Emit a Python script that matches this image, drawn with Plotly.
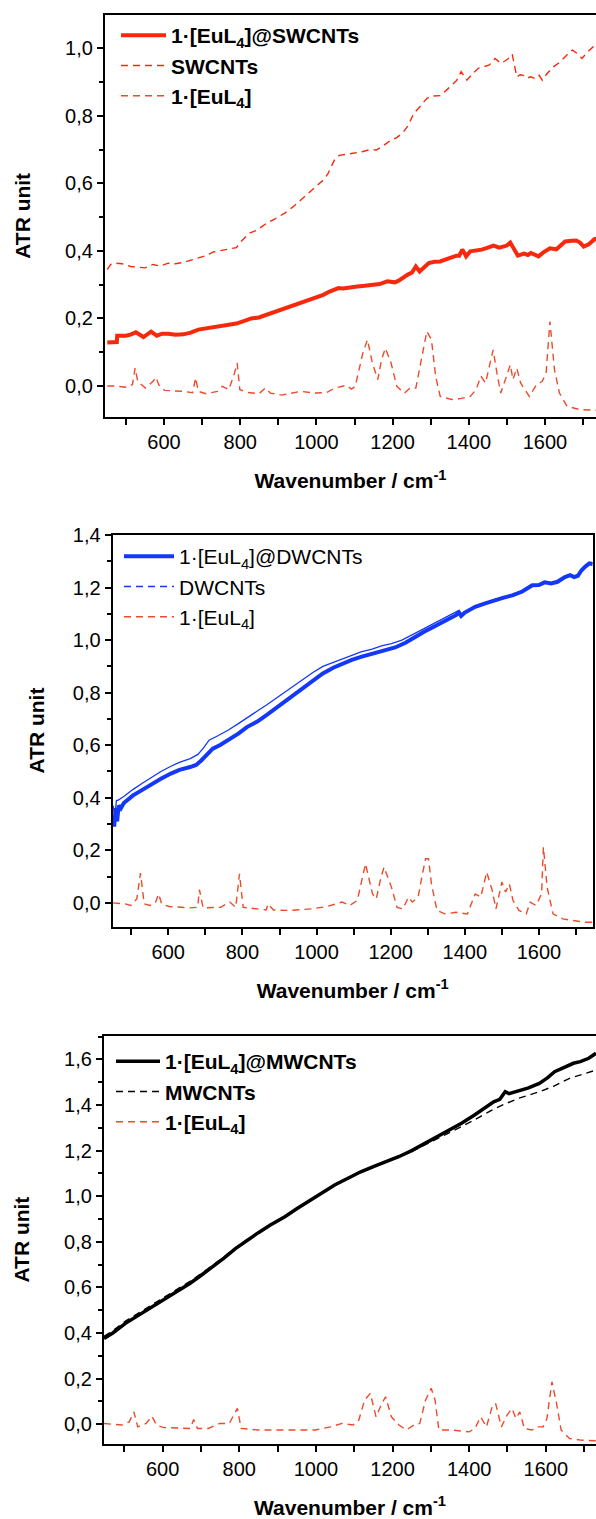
import plotly.graph_objects as go

# ---------------- Panel 1 : SWCNTs ----------------
p1_comp_x = [451, 470, 476, 477, 500, 512, 526, 546, 566, 581, 595, 611, 630, 651, 670, 690, 710, 730, 750, 770,
             790, 809, 829, 849, 869, 889, 909, 929, 948, 968, 988, 1008, 1018, 1033, 1048, 1058, 1070, 1087, 1107,
             1127, 1147, 1166, 1186, 1196, 1206, 1216, 1226, 1240, 1251, 1261, 1271, 1283, 1295, 1310, 1325, 1340,
             1355, 1368, 1375, 1383, 1388, 1393, 1404, 1420, 1434, 1450, 1465, 1480, 1492, 1500, 1509, 1516, 1529,
             1545, 1555, 1563, 1573, 1583, 1595, 1613, 1630, 1653, 1670, 1682, 1692, 1702, 1715, 1730, 1740]
p1_comp_y = [0.129, 0.129, 0.130, 0.149, 0.149, 0.152, 0.159, 0.145, 0.161, 0.149, 0.155, 0.155, 0.152, 0.153,
             0.158, 0.167, 0.171, 0.174, 0.177, 0.182, 0.185, 0.192, 0.200, 0.203, 0.211, 0.218, 0.226, 0.234,
             0.241, 0.248, 0.256, 0.265, 0.270, 0.279, 0.287, 0.290, 0.289, 0.293, 0.295, 0.297, 0.299, 0.302,
             0.310, 0.309, 0.307, 0.312, 0.320, 0.330, 0.336, 0.354, 0.339, 0.352, 0.364, 0.368, 0.369, 0.375,
             0.382, 0.386, 0.386, 0.404, 0.395, 0.384, 0.399, 0.402, 0.404, 0.410, 0.416, 0.410, 0.412, 0.416,
             0.425, 0.410, 0.386, 0.392, 0.388, 0.394, 0.390, 0.384, 0.395, 0.408, 0.405, 0.428, 0.430, 0.431,
             0.425, 0.413, 0.420, 0.435, 0.437]

p1_cnt_x = [451, 460, 472, 490, 512, 530, 551, 571, 590, 611, 630, 651, 670, 690, 710, 730, 750, 770, 790, 800,
            824, 845, 869, 890, 918, 940, 968, 990, 1018, 1030, 1047, 1060, 1075, 1097, 1120, 1140, 1157, 1175,
            1196, 1210, 1226, 1240, 1256, 1270, 1290, 1305, 1325, 1340, 1355, 1368, 1380, 1387, 1395, 1410, 1425,
            1440, 1454, 1469, 1484, 1494, 1504, 1514, 1520, 1526, 1535, 1544, 1553, 1563, 1575, 1585, 1593, 1605,
            1623, 1640, 1653, 1665, 1672, 1685, 1697, 1712, 1727, 1740]
p1_cnt_y = [0.345, 0.360, 0.364, 0.362, 0.354, 0.352, 0.350, 0.360, 0.355, 0.364, 0.362, 0.366, 0.372, 0.378,
            0.386, 0.397, 0.401, 0.404, 0.410, 0.425, 0.453, 0.462, 0.482, 0.494, 0.513, 0.532, 0.561, 0.583,
            0.610, 0.628, 0.669, 0.683, 0.686, 0.689, 0.694, 0.700, 0.699, 0.711, 0.729, 0.735, 0.749, 0.770,
            0.808, 0.825, 0.852, 0.859, 0.860, 0.875, 0.891, 0.905, 0.931, 0.920, 0.906, 0.925, 0.941, 0.946,
            0.951, 0.970, 0.956, 0.962, 0.970, 0.983, 0.950, 0.916, 0.922, 0.920, 0.912, 0.916, 0.910, 0.920,
            0.906, 0.925, 0.946, 0.960, 0.975, 0.990, 0.995, 0.985, 0.970, 0.990, 1.005, 1.010]

p1_eu_x = [451, 472, 502, 517, 524, 531, 551, 571, 579, 586, 601, 650, 675, 683, 690, 710, 740, 753, 770, 785,
           792, 799, 819, 849, 866, 879, 909, 958, 998, 1028, 1048, 1078, 1092, 1102, 1122, 1134, 1147, 1161, 1171,
           1181, 1196, 1211, 1231, 1246, 1261, 1276, 1290, 1302, 1313, 1325, 1355, 1375, 1404, 1419, 1432, 1444,
           1454, 1464, 1474, 1484, 1499, 1509, 1516, 1526, 1536, 1559, 1578, 1593, 1603, 1613, 1625, 1638, 1658,
           1692, 1740]
p1_eu_y = [0.000, 0.000, -0.004, 0.004, 0.053, 0.014, -0.006, 0.014, 0.026, 0.004, -0.013, -0.016, -0.020,
           0.024, -0.016, -0.023, -0.016, -0.001, -0.011, 0.038, 0.068, -0.011, -0.019, -0.023, -0.006, -0.021,
           -0.027, -0.016, -0.021, -0.019, -0.006, 0.002, -0.009, -0.001, 0.098, 0.137, 0.068, 0.019, 0.078,
           0.112, 0.068, -0.001, -0.021, -0.006, -0.006, 0.078, 0.162, 0.137, 0.029, -0.031, -0.040, -0.038,
           -0.031, -0.011, 0.029, 0.009, 0.063, 0.107, 0.038, -0.021, 0.029, 0.063, 0.019, 0.053, 0.009, -0.031,
           0.004, 0.014, 0.038, 0.191, 0.048, -0.021, -0.060, -0.070, -0.072]

# ---------------- Panel 2 : DWCNTs ----------------
p2_comp_x = [451, 454, 458, 462, 466, 472, 480, 505, 530, 556, 580, 607, 630, 659, 675, 689, 705, 720, 740, 761,
             790, 812, 840, 864, 890, 915, 940, 966, 990, 1017, 1045, 1069, 1095, 1120, 1145, 1171, 1190, 1212,
             1240, 1264, 1290, 1315, 1345, 1376, 1384, 1390, 1400, 1428, 1455, 1479, 1505, 1530, 1555, 1582, 1600,
             1615, 1633, 1650, 1670, 1684, 1695, 1705, 1715, 1725, 1736, 1745]
p2_comp_y = [0.33, 0.29, 0.36, 0.31, 0.37, 0.36, 0.38, 0.409, 0.430, 0.453, 0.472, 0.492, 0.506, 0.517, 0.525,
             0.542, 0.565, 0.587, 0.601, 0.619, 0.645, 0.669, 0.690, 0.714, 0.741, 0.771, 0.796, 0.822, 0.848,
             0.873, 0.895, 0.911, 0.925, 0.936, 0.946, 0.955, 0.963, 0.972, 0.990, 1.012, 1.032, 1.050, 1.072,
             1.095, 1.105, 1.092, 1.105, 1.127, 1.140, 1.152, 1.162, 1.171, 1.185, 1.209, 1.210, 1.220, 1.216,
             1.222, 1.240, 1.247, 1.240, 1.245, 1.266, 1.280, 1.292, 1.290]

p2_cnt_x = [451, 456, 460, 464, 480, 505, 530, 556, 580, 607, 630, 659, 680, 695, 710, 735, 761, 790, 812, 840,
            864, 890, 915, 940, 966, 990, 1017, 1038, 1069, 1095, 1120, 1150, 1175, 1202, 1230, 1264, 1295, 1325,
            1350, 1376, 1384, 1390, 1400, 1428, 1455, 1479, 1505, 1530, 1555, 1582, 1600, 1615, 1633, 1650, 1670,
            1684, 1695, 1705, 1715, 1725, 1736, 1745]
p2_cnt_y = [0.37, 0.33, 0.39, 0.39, 0.405, 0.432, 0.455, 0.479, 0.500, 0.520, 0.535, 0.549, 0.565, 0.590,
            0.619, 0.637, 0.657, 0.683, 0.705, 0.730, 0.752, 0.778, 0.802, 0.828, 0.854, 0.877, 0.900, 0.911,
            0.929, 0.943, 0.955, 0.966, 0.978, 0.987, 1.000, 1.025, 1.047, 1.069, 1.088, 1.107, 1.113, 1.100,
            1.108, 1.128, 1.141, 1.154, 1.164, 1.173, 1.187, 1.211, 1.212, 1.222, 1.218, 1.224, 1.242, 1.249,
            1.242, 1.247, 1.268, 1.282, 1.294, 1.292]

p2_eu_x = [451, 484, 499, 515, 525, 535, 551, 566, 574, 582, 602, 658, 679, 684, 694, 741, 766, 782, 792, 802,
           864, 869, 884, 925, 986, 1028, 1069, 1089, 1110, 1125, 1132, 1151, 1161, 1174, 1182, 1202, 1217, 1233,
           1248, 1258, 1274, 1284, 1294, 1302, 1310, 1325, 1346, 1376, 1407, 1428, 1443, 1459, 1474, 1484, 1500,
           1510, 1520, 1530, 1546, 1566, 1576, 1592, 1607, 1612, 1622, 1638, 1664, 1725, 1745]
p2_eu_y = [0.000, -0.004, -0.010, 0.015, 0.113, -0.004, -0.010, 0.003, 0.034, -0.004, -0.014, -0.019, -0.017,
           0.050, -0.019, -0.017, 0.003, -0.017, 0.110, -0.017, -0.027, -0.004, -0.027, -0.029, -0.023, -0.014,
           0.003, -0.010, 0.009, 0.110, 0.149, 0.034, 0.015, 0.098, 0.136, 0.060, -0.017, -0.023, 0.022, 0.003,
           0.022, 0.098, 0.168, 0.168, 0.072, -0.029, -0.042, -0.036, -0.042, 0.034, 0.022, 0.117, 0.047, -0.023,
           0.079, 0.041, 0.072, 0.009, -0.029, -0.042, 0.003, -0.010, 0.034, 0.212, 0.060, -0.042, -0.061,
           -0.074, -0.074]

# ---------------- Panel 3 : MWCNTs ----------------
p3_comp_x = [447, 470, 503, 540, 572, 600, 630, 671, 700, 731, 760, 790, 820, 850, 880, 919, 950, 985, 1018, 1050,
             1085, 1117, 1150, 1183, 1216, 1250, 1283, 1315, 1350, 1380, 1414, 1440, 1464, 1480, 1494, 1504, 1530,
             1555, 1583, 1605, 1623, 1650, 1672, 1690, 1712, 1731]
p3_comp_y = [0.376, 0.400, 0.442, 0.480, 0.515, 0.545, 0.575, 0.617, 0.652, 0.690, 0.728, 0.770, 0.807, 0.840,
             0.872, 0.910, 0.945, 0.983, 1.019, 1.050, 1.080, 1.107, 1.130, 1.152, 1.173, 1.200, 1.230, 1.261,
             1.295, 1.320, 1.356, 1.385, 1.414, 1.425, 1.458, 1.450, 1.462, 1.475, 1.495, 1.520, 1.546, 1.565,
             1.583, 1.590, 1.605, 1.627]

p3_cnt_x = [447, 470, 503, 540, 572, 600, 630, 671, 700, 731, 760, 790, 820, 850, 880, 919, 950, 985, 1018, 1050,
            1085, 1117, 1150, 1183, 1216, 1250, 1283, 1315, 1350, 1380, 1414, 1440, 1464, 1494, 1530, 1583, 1620,
            1662, 1700, 1731]
p3_cnt_y = [0.385, 0.410, 0.452, 0.490, 0.525, 0.555, 0.585, 0.626, 0.660, 0.697, 0.733, 0.773, 0.810, 0.842,
            0.873, 0.911, 0.945, 0.982, 1.017, 1.047, 1.077, 1.104, 1.127, 1.149, 1.170, 1.196, 1.224, 1.250,
            1.280, 1.305, 1.335, 1.360, 1.382, 1.405, 1.430, 1.458, 1.482, 1.517, 1.535, 1.553]

p3_eu_x = [447, 493, 513, 525, 535, 557, 572, 584, 602, 652, 672, 681, 691, 719, 749, 774, 795, 805, 850, 889,
           949, 998, 1038, 1068, 1097, 1112, 1127, 1142, 1157, 1172, 1182, 1197, 1217, 1236, 1256, 1271, 1286,
           1301, 1311, 1321, 1355, 1400, 1415, 1430, 1445, 1460, 1469, 1484, 1499, 1512, 1522, 1532, 1544, 1564,
           1578, 1593, 1603, 1616, 1628, 1640, 1662, 1691, 1731]
p3_eu_y = [0.003, -0.004, 0.010, 0.054, -0.012, 0.003, 0.035, -0.004, -0.015, -0.019, -0.019, 0.020, -0.019,
           -0.019, 0.003, 0.003, 0.069, -0.019, -0.026, -0.026, -0.026, -0.026, -0.012, 0.003, -0.004, 0.018,
           0.105, 0.135, 0.032, 0.091, 0.120, 0.032, -0.004, -0.026, -0.004, 0.003, 0.105, 0.157, 0.105, -0.026,
           -0.026, -0.034, -0.019, 0.032, -0.012, 0.076, 0.091, -0.012, 0.040, 0.069, 0.025, 0.054, -0.019,
           -0.026, -0.012, -0.012, 0.025, 0.186, 0.091, -0.026, -0.063, -0.070, -0.073]

# ---------------- labels ----------------
names1 = ["<b>1·[EuL<sub>4</sub>]@SWCNTs</b>", "<b>SWCNTs</b>", "<b>1·[EuL<sub>4</sub>]</b>"]
names2 = ["1·[EuL<sub>4</sub>]@DWCNTs", "DWCNTs", "1·[EuL<sub>4</sub>]"]
names3 = ["<b>1·[EuL<sub>4</sub>]@MWCNTs</b>", "<b>MWCNTs</b>", "<b>1·[EuL<sub>4</sub>]</b>"]
x_title = "<b>Wavenumber / cm<sup>-1</sup></b>"
y_title = "<b>ATR unit</b>"

RED = "#F7290C"
EU = "#EC4B2B"
BLUE = "#1438FA"
BLACK = "#000000"
FONT = "Liberation Sans, Arial, sans-serif"

W, H = 596, 1519

fig = go.Figure()

# panel 1
fig.add_trace(go.Scatter(x=p1_comp_x, y=p1_comp_y, mode="lines", name=names1[0],
                         line=dict(color=RED, width=4), xaxis="x", yaxis="y", legend="legend"))
fig.add_trace(go.Scatter(x=p1_cnt_x, y=p1_cnt_y, mode="lines", name=names1[1],
                         line=dict(color=RED, width=1.4, dash="7px,5px"), xaxis="x", yaxis="y", legend="legend"))
fig.add_trace(go.Scatter(x=p1_eu_x, y=p1_eu_y, mode="lines", name=names1[2],
                         line=dict(color=EU, width=1.4, dash="7px,5px"), xaxis="x", yaxis="y", legend="legend"))

# panel 2
fig.add_trace(go.Scatter(x=p2_comp_x, y=p2_comp_y, mode="lines", name=names2[0],
                         line=dict(color=BLUE, width=4), xaxis="x2", yaxis="y2", legend="legend2"))
fig.add_trace(go.Scatter(x=p2_cnt_x, y=p2_cnt_y, mode="lines", name=names2[1], showlegend=False,
                         line=dict(color=BLUE, width=1.3), xaxis="x2", yaxis="y2", legend="legend2"))
fig.add_trace(go.Scatter(x=[None], y=[None], mode="lines", name=names2[1],
                         line=dict(color=BLUE, width=1.4, dash="7px,5px"), xaxis="x2", yaxis="y2", legend="legend2"))
fig.add_trace(go.Scatter(x=p2_eu_x, y=p2_eu_y, mode="lines", name=names2[2],
                         line=dict(color=EU, width=1.4, dash="7px,5px"), xaxis="x2", yaxis="y2", legend="legend2"))

# panel 3
fig.add_trace(go.Scatter(x=p3_comp_x, y=p3_comp_y, mode="lines", name=names3[0],
                         line=dict(color=BLACK, width=3.5), xaxis="x3", yaxis="y3", legend="legend3"))
fig.add_trace(go.Scatter(x=p3_cnt_x, y=p3_cnt_y, mode="lines", name=names3[1],
                         line=dict(color=BLACK, width=1.4, dash="7px,5px"), xaxis="x3", yaxis="y3", legend="legend3"))
fig.add_trace(go.Scatter(x=p3_eu_x, y=p3_eu_y, mode="lines", name=names3[2],
                         line=dict(color=EU, width=1.4, dash="7px,5px"), xaxis="x3", yaxis="y3", legend="legend3"))


def px_x(v):
    return v / W


def px_y(v):
    return 1 - v / H


def xaxis(domain, rng, anchor, mirror):
    return dict(domain=domain, range=rng, anchor=anchor, showline=True, linecolor="black", linewidth=2.2,
                mirror=mirror, showgrid=False, zeroline=False, ticks="outside", ticklen=6, tickwidth=2,
                tickcolor="black", tickvals=[600, 800, 1000, 1200, 1400, 1600],
                ticktext=["600", "800", "1000", "1200", "1400", "1600"],
                minor=dict(ticks="outside", ticklen=6, tickwidth=2, tickcolor="black", dtick=100, tick0=0),
                tickfont=dict(family=FONT, size=20, color="black"),
                title=dict(text=x_title, font=dict(family=FONT, size=21, color="black"), standoff=22),
                automargin=False)


def yaxis(domain, rng, anchor, mirror, tv, standoff):
    return dict(domain=domain, range=rng, anchor=anchor, showline=True, linecolor="black", linewidth=2.2,
                mirror=mirror, showgrid=False, zeroline=False, ticks="outside", ticklen=6, tickwidth=2,
                tickcolor="black", tickvals=tv, ticktext=[f"{v:.1f}".replace(".", ",") for v in tv],
                minor=dict(ticks="outside", ticklen=4, tickwidth=2, tickcolor="black", dtick=0.1, tick0=0),
                tickfont=dict(family=FONT, size=20, color="black"),
                title=dict(text=y_title, font=dict(family=FONT, size=21, color="black"), standoff=standoff),
                automargin=False)


yt1 = [0.0, 0.2, 0.4, 0.6, 0.8, 1.0]
yt2 = [0.0, 0.2, 0.4, 0.6, 0.8, 1.0, 1.2, 1.4]
yt3 = [0.0, 0.2, 0.4, 0.6, 0.8, 1.0, 1.2, 1.4, 1.6]

legend_common = dict(bgcolor="rgba(0,0,0,0)", borderwidth=0, xanchor="left", yanchor="top", tracegroupgap=0)

fig.update_layout(
    width=W, height=H, margin=dict(l=0, r=0, t=0, b=0), plot_bgcolor="white", paper_bgcolor="white",
    showlegend=True,
    xaxis=xaxis([px_x(105), 1.0], [445, 1734], "y", True),
    yaxis=yaxis([px_y(416.7), px_y(15)], [-0.091, 1.099], "x", False, yt1, 29),
    xaxis2=xaxis([px_x(112.7), px_x(592.7)], [450, 1745], "y2", True),
    yaxis2=yaxis([px_y(926.5), px_y(534.5)], [-0.09, 1.402], "x2", True, yt2, 22),
    xaxis3=xaxis([px_x(104), 1.0], [447, 1731], "y3", True),
    yaxis3=yaxis([px_y(1443.5), px_y(1035.7)], [-0.085, 1.704], "x3", False, yt3, 29),
    legend=dict(x=px_x(116), y=px_y(15), itemwidth=45,
                font=dict(family=FONT, size=21, color="black"), **legend_common),
    legend2=dict(x=px_x(119), y=px_y(536), itemwidth=50,
                 font=dict(family=FONT, size=21, color="black"), **legend_common),
    legend3=dict(x=px_x(111), y=px_y(1041), itemwidth=44,
                 font=dict(family=FONT, size=21, color="black"), **legend_common),
)

fig.write_html("out.html")
